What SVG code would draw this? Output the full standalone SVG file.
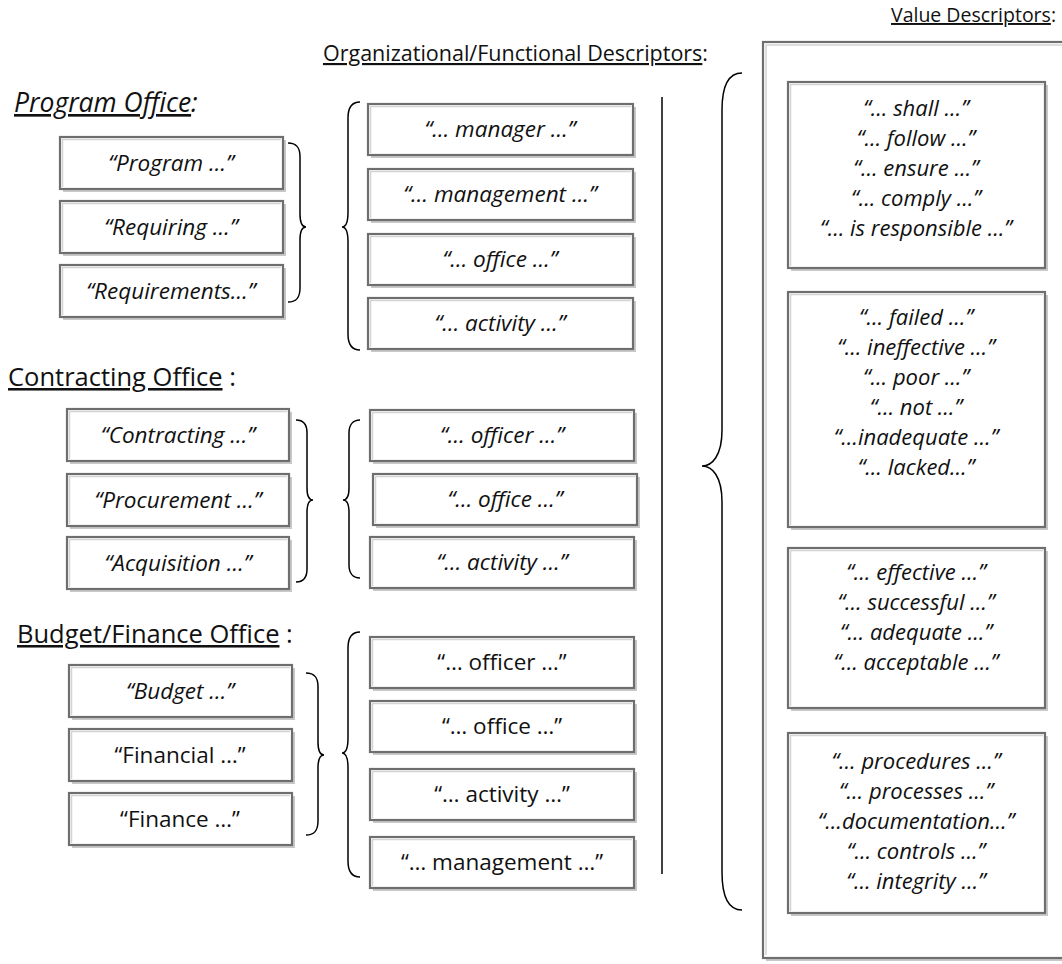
<svg xmlns="http://www.w3.org/2000/svg" width="1062" height="964" viewBox="0 0 1062 964">
<style>
text{font-family:"Open Sans","Liberation Sans",sans-serif;fill:#111;}
.t{font-size:22.5px;text-anchor:middle;}
.v{font-size:22px;text-anchor:middle;font-style:italic;}
.i{font-style:italic;}
.h{font-size:25.5px;}
.hs{font-size:21.5px;text-anchor:end;}
.u{text-decoration:underline;}
.sh{fill:#c8c8c8;stroke:none;}
.bx{fill:#fff;stroke:#6e6e6e;stroke-width:2.2;}
.hl{fill:none;stroke:#d4d4d4;stroke-width:1.5;}
.br{fill:none;stroke:#000;stroke-width:1.5;}
</style>
<rect width="1062" height="964" fill="#fff"/>

<g id="headers">
<text class="h i" x="14" y="112" style="font-size:26.5px"><tspan class="u">Program Office</tspan>:</text>
<text class="h" x="8" y="386"><tspan class="u">Contracting Office</tspan> :</text>
<text class="h" x="17" y="643"><tspan class="u">Budget/Finance Office</tspan> :</text>
<text class="hs" x="708" y="61"><tspan class="u">Organizational/Functional Descriptors</tspan>:</text>
<text class="hs" x="1056" y="22" style="font-size:19.5px"><tspan class="u">Value Descriptors</tspan>:</text>
</g>

<g id="value-frame">
<rect class="sh" x="766" y="45" width="310" height="916"/>
<rect class="bx" x="763" y="42" width="310" height="916"/>
<path class="hl" d="M766 955 V45 H1070"/>
</g>

<g id="prog-program"><rect class="sh" x="63" y="140" width="223" height="52"/><rect class="bx" x="60" y="137" width="223" height="52"/><path class="hl" d="M62.5 187 V139.5 H281"/><text class="t i" x="171" y="171">“Program …”</text></g>
<g id="prog-requiring"><rect class="sh" x="63" y="204" width="223" height="52"/><rect class="bx" x="60" y="201" width="223" height="52"/><path class="hl" d="M62.5 251 V203.5 H281"/><text class="t i" x="171" y="235">“Requiring …”</text></g>
<g id="prog-requirements"><rect class="sh" x="63" y="268" width="223" height="52"/><rect class="bx" x="60" y="265" width="223" height="52"/><path class="hl" d="M62.5 315 V267.5 H281"/><text class="t i" x="171" y="299">“Requirements…”</text></g>

<g id="prog-manager"><rect class="sh" x="371" y="107" width="265" height="51"/><rect class="bx" x="368" y="104" width="265" height="51"/><path class="hl" d="M370.5 153 V106.5 H631"/><text class="t i" x="500" y="137">“… manager …”</text></g>
<g id="prog-management"><rect class="sh" x="371" y="172" width="265" height="51"/><rect class="bx" x="368" y="169" width="265" height="51"/><path class="hl" d="M370.5 218 V171.5 H631"/><text class="t i" x="500" y="202">“… management …”</text></g>
<g id="prog-office"><rect class="sh" x="371" y="237" width="265" height="51"/><rect class="bx" x="368" y="234" width="265" height="51"/><path class="hl" d="M370.5 283 V236.5 H631"/><text class="t i" x="500" y="267">“… office …”</text></g>
<g id="prog-activity"><rect class="sh" x="371" y="301" width="265" height="51"/><rect class="bx" x="368" y="298" width="265" height="51"/><path class="hl" d="M370.5 347 V300.5 H631"/><text class="t i" x="500" y="331">“… activity …”</text></g>

<g id="con-contracting"><rect class="sh" x="70" y="412" width="222" height="52"/><rect class="bx" x="67" y="409" width="222" height="52"/><path class="hl" d="M69.5 459 V411.5 H287"/><text class="t i" x="178" y="443">“Contracting …”</text></g>
<g id="con-procurement"><rect class="sh" x="70" y="477" width="222" height="52"/><rect class="bx" x="67" y="474" width="222" height="52"/><path class="hl" d="M69.5 524 V476.5 H287"/><text class="t i" x="178" y="508">“Procurement …”</text></g>
<g id="con-acquisition"><rect class="sh" x="70" y="540" width="222" height="52"/><rect class="bx" x="67" y="537" width="222" height="52"/><path class="hl" d="M69.5 587 V539.5 H287"/><text class="t i" x="178" y="571">“Acquisition …”</text></g>

<g id="con-officer"><rect class="sh" x="373" y="413" width="264" height="51"/><rect class="bx" x="370" y="410" width="264" height="51"/><path class="hl" d="M372.5 459 V412.5 H632"/><text class="t i" x="502" y="443">“… officer …”</text></g>
<g id="con-office"><rect class="sh" x="376" y="477" width="264" height="51"/><rect class="bx" x="373" y="474" width="264" height="51"/><path class="hl" d="M375.5 523 V476.5 H635"/><text class="t i" x="505" y="507">“… office …”</text></g>
<g id="con-activity"><rect class="sh" x="373" y="540" width="264" height="51"/><rect class="bx" x="370" y="537" width="264" height="51"/><path class="hl" d="M372.5 586 V539.5 H632"/><text class="t i" x="502" y="570">“… activity …”</text></g>

<g id="bud-budget"><rect class="sh" x="72" y="668" width="223" height="52"/><rect class="bx" x="69" y="665" width="223" height="52"/><path class="hl" d="M71.5 715 V667.5 H290"/><text class="t i" x="180" y="699">“Budget …”</text></g>
<g id="bud-financial"><rect class="sh" x="72" y="732" width="223" height="52"/><rect class="bx" x="69" y="729" width="223" height="52"/><path class="hl" d="M71.5 779 V731.5 H290"/><text class="t" x="180" y="763">“Financial …”</text></g>
<g id="bud-finance"><rect class="sh" x="72" y="796" width="223" height="52"/><rect class="bx" x="69" y="793" width="223" height="52"/><path class="hl" d="M71.5 843 V795.5 H290"/><text class="t" x="180" y="827">“Finance …”</text></g>

<g id="bud-officer"><rect class="sh" x="373" y="640" width="264" height="51"/><rect class="bx" x="370" y="637" width="264" height="51"/><path class="hl" d="M372.5 686 V639.5 H632"/><text class="t" x="502" y="670">“… officer …”</text></g>
<g id="bud-office"><rect class="sh" x="373" y="704" width="264" height="51"/><rect class="bx" x="370" y="701" width="264" height="51"/><path class="hl" d="M372.5 750 V703.5 H632"/><text class="t" x="502" y="734">“… office …”</text></g>
<g id="bud-activity"><rect class="sh" x="373" y="772" width="264" height="51"/><rect class="bx" x="370" y="769" width="264" height="51"/><path class="hl" d="M372.5 818 V771.5 H632"/><text class="t" x="502" y="802">“… activity …”</text></g>
<g id="bud-management"><rect class="sh" x="373" y="840" width="264" height="51"/><rect class="bx" x="370" y="837" width="264" height="51"/><path class="hl" d="M372.5 886 V839.5 H632"/><text class="t" x="502" y="870">“… management …”</text></g>

<g id="val-obligation"><rect class="sh" x="791" y="85" width="257" height="186"/><rect class="bx" x="788" y="82" width="257" height="186"/><path class="hl" d="M790.5 266 V84.5 H1043"/>
<text class="v"><tspan x="916" y="116">“… shall …”</tspan><tspan x="916" y="146">“… follow …”</tspan><tspan x="916" y="176">“… ensure …”</tspan><tspan x="916" y="206">“… comply …”</tspan><tspan x="916" y="236">“… is responsible …”</tspan></text></g>
<g id="val-negative"><rect class="sh" x="791" y="295" width="257" height="235"/><rect class="bx" x="788" y="292" width="257" height="235"/><path class="hl" d="M790.5 525 V294.5 H1043"/>
<text class="v"><tspan x="916" y="325">“… failed …”</tspan><tspan x="916" y="355">“… ineffective …”</tspan><tspan x="916" y="385">“… poor …”</tspan><tspan x="916" y="415">“… not …”</tspan><tspan x="916" y="445">“…inadequate …”</tspan><tspan x="916" y="475">“… lacked…”</tspan></text></g>
<g id="val-positive"><rect class="sh" x="791" y="551" width="257" height="160"/><rect class="bx" x="788" y="548" width="257" height="160"/><path class="hl" d="M790.5 706 V550.5 H1043"/>
<text class="v"><tspan x="916" y="580">“… effective …”</tspan><tspan x="916" y="610">“… successful …”</tspan><tspan x="916" y="640">“… adequate …”</tspan><tspan x="916" y="670">“… acceptable …”</tspan></text></g>
<g id="val-process"><rect class="sh" x="791" y="736" width="257" height="180"/><rect class="bx" x="788" y="733" width="257" height="180"/><path class="hl" d="M790.5 911 V735.5 H1043"/>
<text class="v"><tspan x="916" y="769">“… procedures …”</tspan><tspan x="916" y="799">“… processes …”</tspan><tspan x="916" y="829">“…documentation…”</tspan><tspan x="916" y="859">“… controls …”</tspan><tspan x="916" y="889">“… integrity …”</tspan></text></g>

<g id="connectors">
<path class="br" d="M288 143 C297 143 300 148 300 157 V214 C300 222 302 227 306 227 C302 227 300 232 300 240 V288 C300 297 297 302 288 302"/>
<path class="br" d="M360 102 C352 102 348 108 348 118 V212 C348 222 346 227 342 227 C346 227 348 232 348 242 V334 C348 344 352 350 360 350"/>
<path class="br" d="M296 420 C304 420 307 425 307 433 V488 C307 496 309 500 313 500 C309 500 307 504 307 512 V569 C307 577 304 582 296 582"/>
<path class="br" d="M360 420 C353 420 349 425 349 433 V488 C349 496 347 500 343 500 C347 500 349 504 349 512 V565 C349 573 353 578 360 578"/>
<path class="br" d="M306 673 C315 673 318 678 318 687 V742 C318 750 320 755 324 755 C320 755 318 760 318 768 V821 C318 830 315 835 306 835"/>
<path class="br" d="M360 632 C352 632 348 638 348 648 V738 C348 748 346 753 342 753 C346 753 348 758 348 768 V861 C348 871 352 877 360 877"/>
<line class="br" x1="662" y1="97" x2="662" y2="874"/>
<path class="br" d="M742 73 C728 73 722 86 722 110 V430 C722 456 712 466 702 466 C712 466 722 476 722 502 V872 C722 896 728 910 742 910"/>
</g>
</svg>
